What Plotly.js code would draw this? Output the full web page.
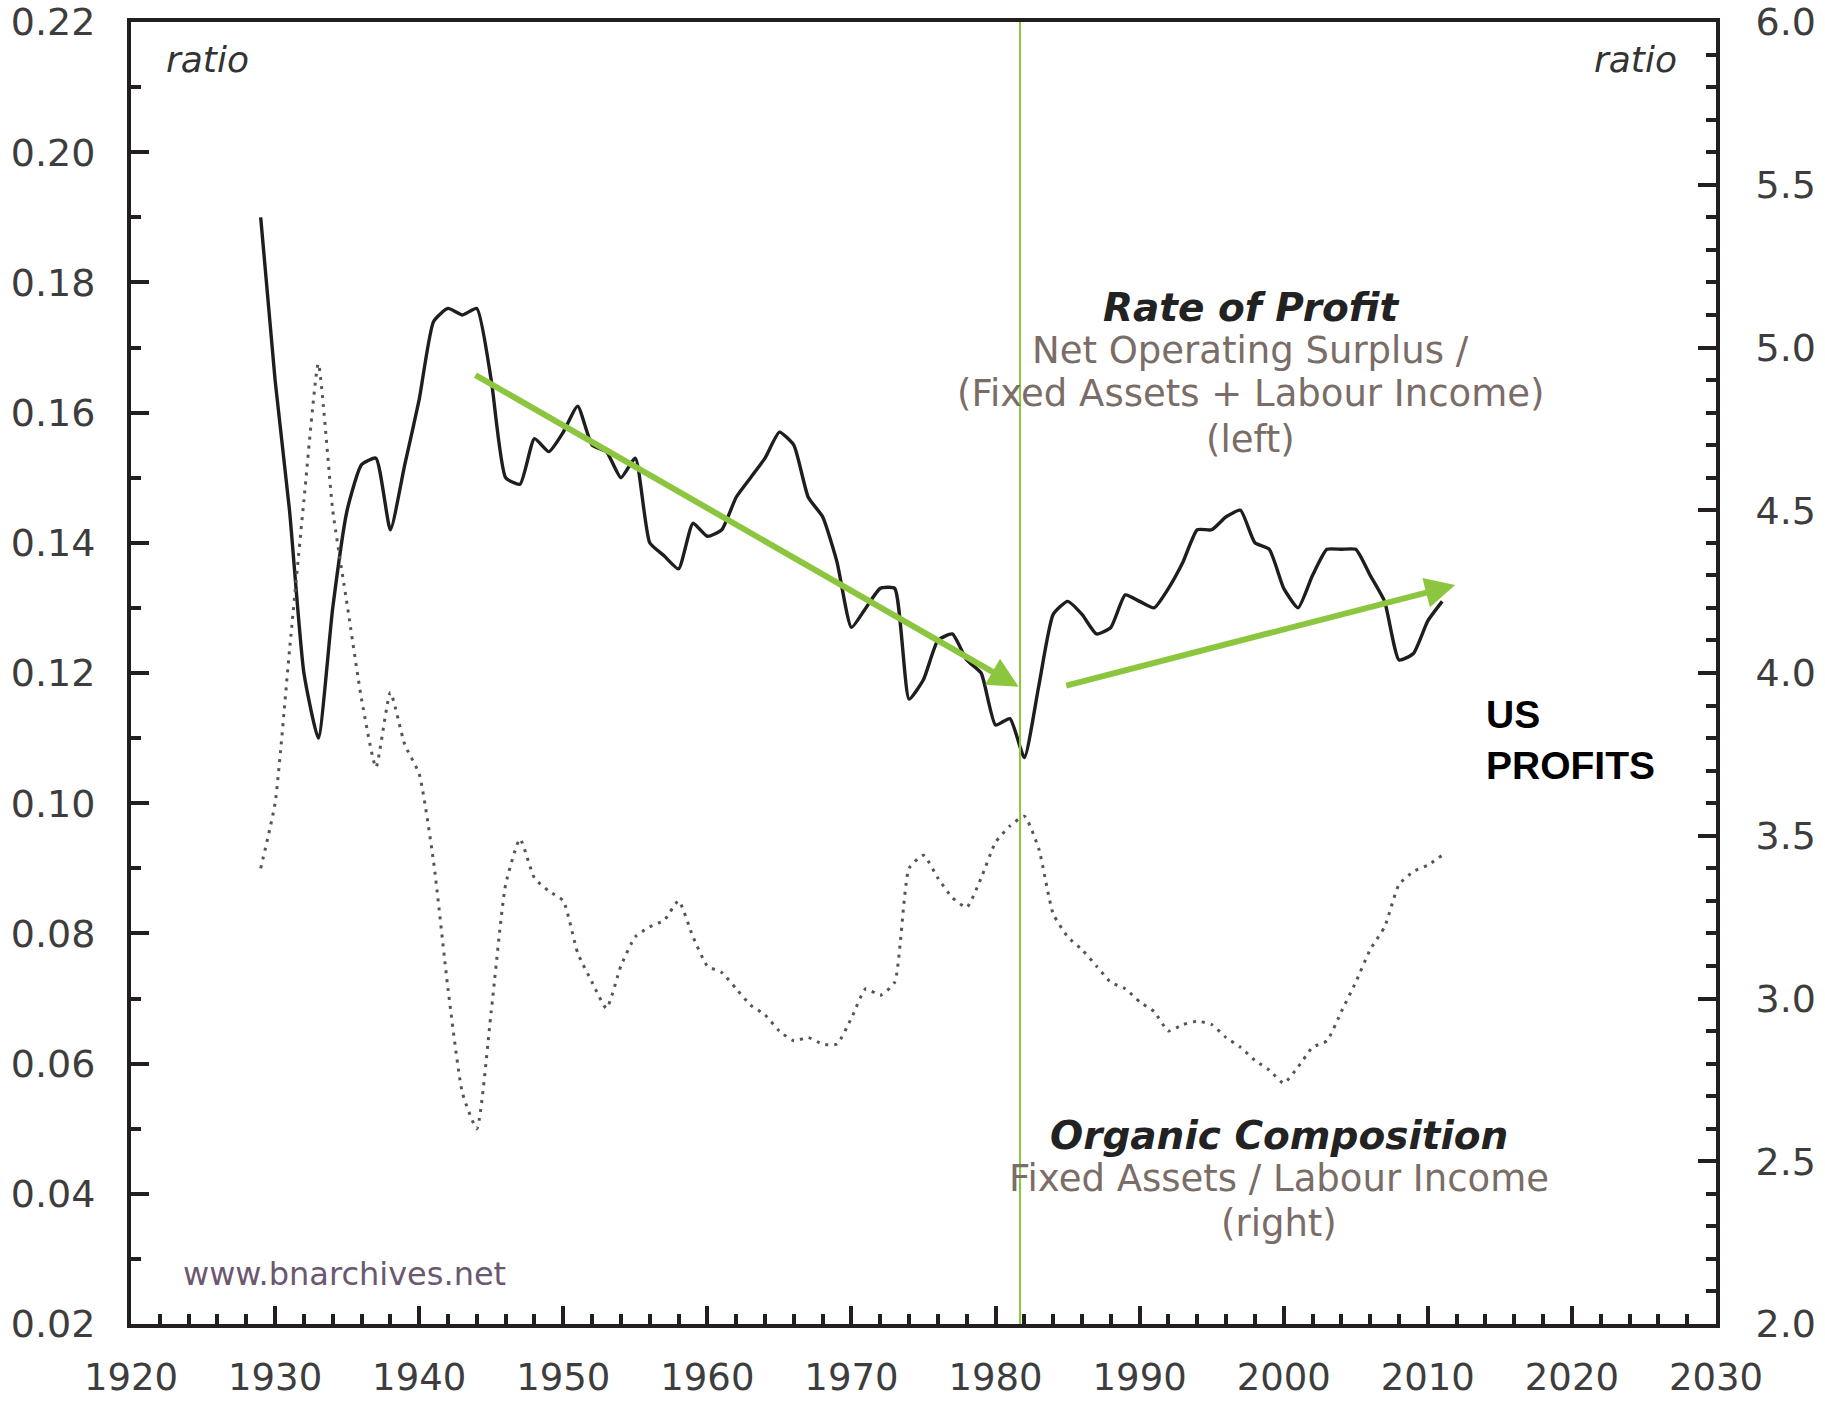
<!DOCTYPE html>
<html>
<head>
<meta charset="utf-8">
<script src="https://cdn.plot.ly/plotly-3.0.1.min.js"></script>
<style>html,body{margin:0;padding:0;background:#fff;}#chart{width:1825px;height:1404px;}</style>
</head>
<body>
<div id="chart"></div>
<script>
const years = [1929,1930,1931,1932,1933,1934,1935,1936,1937,1938,
1939,1940,1941,1942,1943,1944,1945,1946,1947,1948,
1949,1950,1951,1952,1953,1954,1955,1956,1957,1958,
1959,1960,1961,1962,1963,1964,1965,1966,1967,1968,
1969,1970,1971,1972,1973,1974,1975,1976,1977,1978,
1979,1980,1981,1982,1983,1984,1985,1986,1987,1988,
1989,1990,1991,1992,1993,1994,1995,1996,1997,1998,
1999,2000,2001,2002,2003,2004,2005,2006,2007,2008,
2009,2010,2011];

// Rate of Profit: Net Operating Surplus / (Fixed Assets + Labour Income) (left axis)
const rateOfProfit = [0.190,0.165,0.145,0.120,0.110,0.130,0.145,0.152,0.153,0.142,
0.152,0.162,0.174,0.176,0.175,0.176,0.165,0.150,0.149,0.156,
0.154,0.157,0.161,0.155,0.154,0.150,0.153,0.140,0.138,0.136,
0.143,0.141,0.142,0.147,0.150,0.153,0.157,0.155,0.147,0.144,
0.137,0.127,0.130,0.133,0.133,0.116,0.119,0.125,0.126,0.122,
0.120,0.112,0.113,0.107,0.118,0.129,0.131,0.129,0.126,0.127,
0.132,0.131,0.130,0.133,0.137,0.142,0.142,0.144,0.145,0.140,
0.139,0.133,0.130,0.135,0.139,0.139,0.139,0.135,0.131,0.122,
0.123,0.128,0.131];

// Organic Composition: Fixed Assets / Labour Income (right axis)
const organicComposition = [3.40,3.60,4.07,4.53,4.95,4.50,4.21,3.92,3.71,3.94,
3.78,3.69,3.42,3.03,2.71,2.60,2.96,3.35,3.49,3.37,
3.33,3.30,3.14,3.05,2.97,3.10,3.19,3.22,3.24,3.30,
3.19,3.10,3.08,3.03,2.98,2.95,2.90,2.87,2.88,2.86,
2.86,2.94,3.03,3.01,3.05,3.40,3.44,3.37,3.31,3.28,
3.37,3.48,3.53,3.56,3.46,3.26,3.19,3.15,3.10,3.05,
3.03,2.99,2.96,2.90,2.92,2.93,2.92,2.88,2.85,2.81,
2.78,2.74,2.79,2.85,2.87,2.96,3.05,3.15,3.22,3.35,
3.39,3.41,3.44];

const xTickVals = [1920,1930,1940,1950,1960,1970,1980,1990,2000,2010,2020,2030];
const leftTickVals = [0.02,0.04,0.06,0.08,0.10,0.12,0.14,0.16,0.18,0.20,0.22];
const rightTickVals = [2.0,2.5,3.0,3.5,4.0,4.5,5.0,5.5,6.0];

// trend arrows [tailYear, tailValue, headYear, headValue] (left axis)
const trendDown = [1943.8, 0.1659, 1981.6, 0.1179];
const trendUp = [1984.8, 0.1180, 2011.9, 0.1335];
const turningYear = 1981.7;

const axisColor = '#231f20';
const tickFont = {family: 'DejaVu Sans, Arial, sans-serif', size: 38, color: '#3d3d3d'};
const green = '#8cc63f';
const subColor = '#7a6c66';

const traces = [
  {x: years, y: organicComposition, yaxis: 'y2', type: 'scatter', mode: 'lines',
   line: {color: '#555555', width: 3, dash: '3px,6px', shape: 'spline', smoothing: 0.5},
   name: 'Organic Composition', showlegend: false, hoverinfo: 'x+y'},
  {x: years, y: rateOfProfit, yaxis: 'y', type: 'scatter', mode: 'lines',
   line: {color: '#1e1e1e', width: 3.4, shape: 'spline', smoothing: 0.5},
   name: 'Rate of Profit', showlegend: false, hoverinfo: 'x+y'}
];

const commonAxis = {
  showgrid: false, zeroline: false, showline: true, linewidth: 4, linecolor: axisColor,
  ticks: 'inside', tickcolor: axisColor, tickwidth: 4, ticklen: 18, tickfont: tickFont
};

const layout = {
  width: 1825, height: 1404,
  margin: {l: 131, r: 109, t: 22, b: 80, pad: 0},
  paper_bgcolor: '#ffffff', plot_bgcolor: '#ffffff',
  showlegend: false,
  xaxis: Object.assign({}, commonAxis, {
    range: [1920, 2030], tickmode: 'array', tickvals: xTickVals,
    ticktext: xTickVals.map(String), mirror: true, ticklabelstandoff: 18,
    tickfont: {family: 'DejaVu Sans, Arial, sans-serif', size: 37, color: '#3d3d3d'},
    minor: {dtick: 2, tick0: 1920, ticks: 'inside', ticklen: 10, tickwidth: 4, tickcolor: axisColor, showgrid: false}
  }),
  yaxis: Object.assign({}, commonAxis, {
    range: [0.02, 0.22], tickmode: 'array', tickvals: leftTickVals,
    ticktext: leftTickVals.map(v => v.toFixed(2)), ticklabelstandoff: 24,
    minor: {dtick: 0.01, tick0: 0.02, ticks: 'inside', ticklen: 10, tickwidth: 4, tickcolor: axisColor, showgrid: false}
  }),
  yaxis2: Object.assign({}, commonAxis, {
    range: [2, 6], overlaying: 'y', side: 'right', tickmode: 'array', tickvals: rightTickVals,
    ticktext: rightTickVals.map(v => v.toFixed(1)), ticklabelstandoff: 28,
    minor: {dtick: 0.1, tick0: 2, ticks: 'inside', ticklen: 10, tickwidth: 4, tickcolor: axisColor, showgrid: false}
  }),
  shapes: [
    {type: 'line', xref: 'x', yref: 'paper', x0: turningYear, x1: turningYear, y0: 0, y1: 1,
     line: {color: green, width: 2}}
  ],
  annotations: [
    {x: trendDown[2], y: trendDown[3], ax: trendDown[0], ay: trendDown[1], xref: 'x', yref: 'y', axref: 'x', ayref: 'y',
     text: '', showarrow: true, arrowhead: 2, arrowsize: 1, arrowwidth: 6, arrowcolor: green, standoff: 0},
    {x: trendUp[2], y: trendUp[3], ax: trendUp[0], ay: trendUp[1], xref: 'x', yref: 'y', axref: 'x', ayref: 'y',
     text: '', showarrow: true, arrowhead: 2, arrowsize: 1, arrowwidth: 6, arrowcolor: green, standoff: 0},
    {x: 1925.3, y: 0.2142, xref: 'x', yref: 'y', text: 'ratio', showarrow: false,
     font: {family: 'DejaVu Sans', size: 36, color: '#333', style: 'italic'}},
    {x: 2024.4, y: 0.2142, xref: 'x', yref: 'y', text: 'ratio', showarrow: false,
     font: {family: 'DejaVu Sans', size: 36, color: '#333', style: 'italic'}},
    {x: 1997.7, y: 0.1761, xref: 'x', yref: 'y', text: 'Rate of Profit', showarrow: false,
     font: {family: 'DejaVu Sans', size: 39, color: '#222', style: 'italic', weight: 'bold'}},
    {x: 1997.7, y: 0.1695, xref: 'x', yref: 'y', text: 'Net Operating Surplus /', showarrow: false,
     font: {family: 'DejaVu Sans', size: 37, color: subColor}},
    {x: 1997.7, y: 0.1630, xref: 'x', yref: 'y', text: '(Fixed Assets + Labour Income)', showarrow: false,
     font: {family: 'DejaVu Sans', size: 37, color: subColor}},
    {x: 1997.7, y: 0.1558, xref: 'x', yref: 'y', text: '(left)', showarrow: false,
     font: {family: 'DejaVu Sans', size: 37, color: subColor}},
    {x: 1999.7, y: 0.0490, xref: 'x', yref: 'y', text: 'Organic Composition', showarrow: false,
     font: {family: 'DejaVu Sans', size: 39, color: '#222', style: 'italic', weight: 'bold'}},
    {x: 1999.7, y: 0.0424, xref: 'x', yref: 'y', text: 'Fixed Assets / Labour Income', showarrow: false,
     font: {family: 'DejaVu Sans', size: 37, color: subColor}},
    {x: 1999.7, y: 0.0354, xref: 'x', yref: 'y', text: '(right)', showarrow: false,
     font: {family: 'DejaVu Sans', size: 37, color: subColor}},
    {x: 1934.8, y: 0.0277, xref: 'x', yref: 'y', text: 'www.bnarchives.net', showarrow: false,
     font: {family: 'DejaVu Sans', size: 32, color: '#6a5870'}},
    {x: 2013.9, y: 0.1097, xref: 'x', yref: 'y', text: 'US<br>PROFITS', showarrow: false,
     xanchor: 'left', align: 'left',
     font: {family: 'Liberation Sans, Arial, sans-serif', size: 39, color: '#000', weight: 'bold'}}
  ]
};

Plotly.newPlot('chart', traces, layout, {staticPlot: true, displayModeBar: false});
</script>
</body>
</html>
